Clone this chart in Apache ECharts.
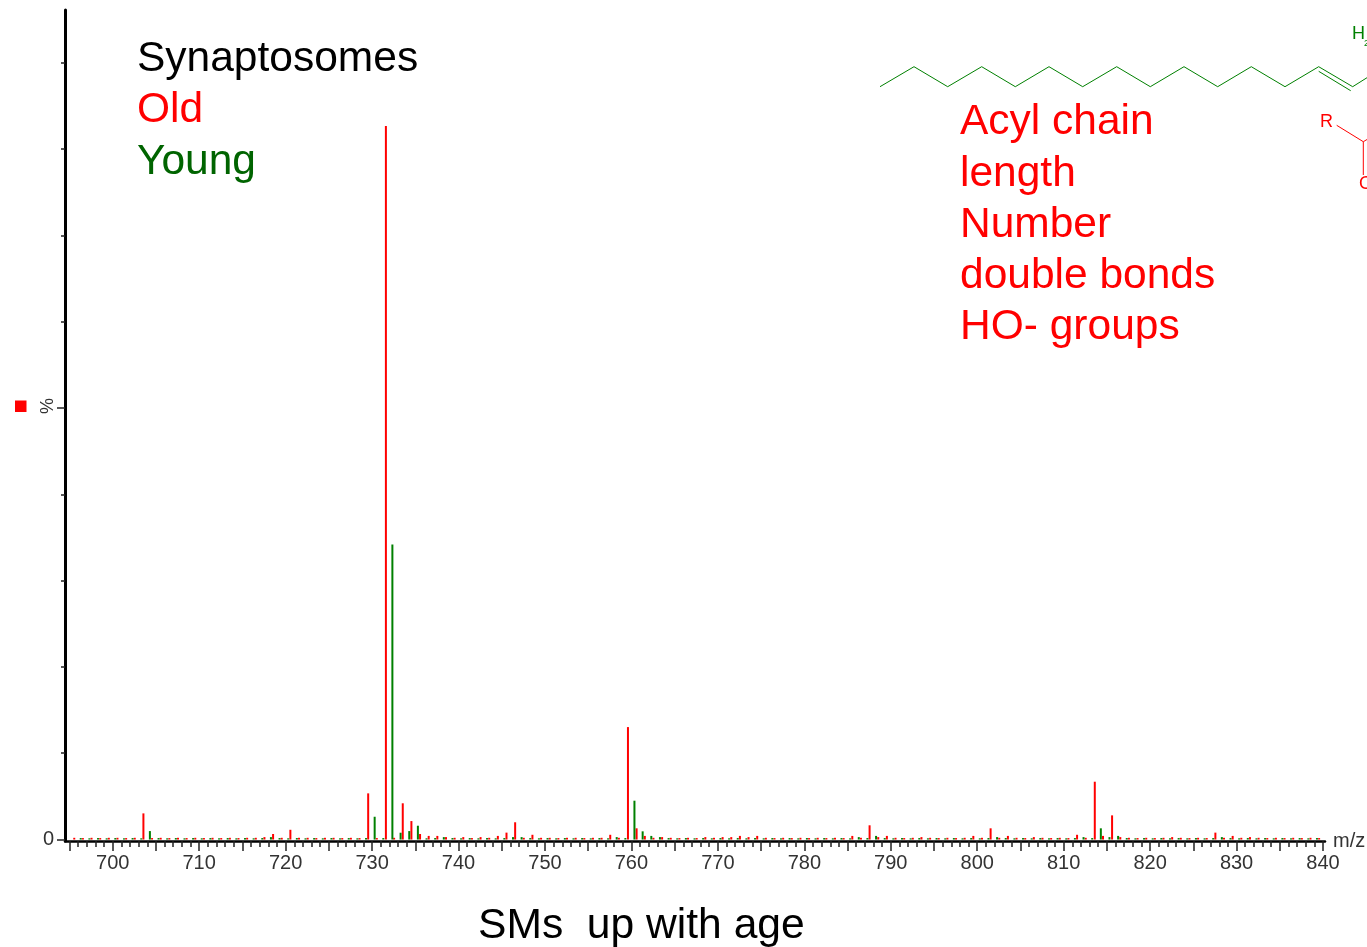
<!DOCTYPE html>
<html><head><meta charset="utf-8">
<style>html,body{margin:0;padding:0;background:#fff}#c{width:1367px;height:947px}</style>
<script src="https://cdn.jsdelivr.net/npm/echarts@6/dist/echarts.min.js"></script>
</head><body><div id="c"></div>
<script>
const oldMz = [
695.55,696.55,697.55,698.55,699.55,
700.55,701.55,702.55,703.55,704.55,705.55,706.55,707.55,708.55,709.55,
710.55,711.55,712.55,713.55,714.55,715.55,716.55,717.55,718.55,719.55,
720.55,721.55,722.55,723.55,724.55,725.55,726.55,727.55,728.55,729.55,
730.55,731.6,732.55,733.55,734.55,735.55,736.55,737.55,738.55,739.55,
740.55,741.55,742.55,743.55,744.55,745.55,746.55,747.55,748.55,749.55,
750.55,751.55,752.55,753.55,754.55,755.55,756.55,757.55,758.55,759.6,
760.6,761.55,762.55,763.55,764.55,765.55,766.55,767.55,768.55,769.55,
770.55,771.55,772.55,773.55,774.55,775.55,776.55,777.55,778.55,779.55,
780.55,781.55,782.55,783.55,784.55,785.55,786.55,787.55,788.55,789.55,
790.55,791.55,792.55,793.55,794.55,795.55,796.55,797.55,798.55,799.55,
800.55,801.55,802.55,803.55,804.55,805.55,806.55,807.55,808.55,809.55,
810.55,811.55,812.55,813.6,814.55,815.6,816.55,817.55,818.55,819.55,
820.55,821.55,822.55,823.55,824.55,825.55,826.55,827.55,828.55,829.55,
830.55,831.55,832.55,833.55,834.55,835.55,836.55,837.55,838.55,839.55];
const oldPct = [
.2,.17,.2,.17,.2,
.2,.17,.2,3.03,.17,.2,.17,.2,.17,.2,
.17,.2,.17,.2,.17,.2,.2,.28,.64,.2,
1.13,.2,.2,.17,.2,.2,.17,.2,.17,5.35,
.17,82.68,.2,4.2,2.14,.64,.42,.42,.28,.2,
.28,.17,.28,.2,.42,.8,2.0,.2,.55,.2,
.2,.17,.2,.2,.17,.2,.2,.55,.2,13.03,
1.3,.42,.2,.28,.2,.17,.2,.17,.28,.2,
.28,.28,.42,.28,.42,.2,.17,.2,.17,.2,
.17,.2,.17,.2,.17,.42,.2,1.65,.28,.42,
.2,.17,.2,.28,.2,.17,.2,.17,.2,.42,
.2,1.3,.2,.42,.2,.17,.28,.2,.17,.2,
.17,.55,.2,6.7,.42,2.8,.28,.2,.17,.2,
.17,.2,.28,.2,.17,.2,.17,.8,.2,.42,
.2,.28,.2,.17,.2,.17,.2,.17,.2,.17];
const youngMz = [
696.3,697.3,698.3,699.3,
700.3,701.3,702.3,703.3,704.3,705.3,706.3,707.3,708.3,709.3,
710.3,711.3,712.3,713.3,714.3,715.3,716.3,717.3,718.3,719.3,
720.3,721.3,722.3,723.3,724.3,725.3,726.3,727.3,728.3,729.3,
730.3,731.3,732.35,733.3,734.3,735.3,736.3,737.3,738.3,739.3,
740.3,741.3,742.3,743.3,744.3,745.3,746.3,747.3,748.3,749.3,
750.3,751.3,752.3,753.3,754.3,755.3,756.3,757.3,758.3,759.3,
760.35,761.3,762.3,763.3,764.3,765.3,766.3,767.3,768.3,769.3,
770.3,771.3,772.3,773.3,774.3,775.3,776.3,777.3,778.3,779.3,
780.3,781.3,782.3,783.3,784.3,785.3,786.3,787.3,788.3,789.3,
790.3,791.3,792.3,793.3,794.3,795.3,796.3,797.3,798.3,799.3,
800.3,801.3,802.3,803.3,804.3,805.3,806.3,807.3,808.3,809.3,
810.3,811.3,812.3,813.3,814.3,815.3,816.3,817.3,818.3,819.3,
820.3,821.3,822.3,823.3,824.3,825.3,826.3,827.3,828.3,829.3,
830.3,831.3,832.3,833.3,834.3,835.3,836.3,837.3,838.3,839.3];
const youngPct = [
.17,.14,.17,.14,
.17,.14,.17,.14,.98,.17,.14,.17,.14,.17,
.14,.17,.14,.17,.14,.17,.14,.17,.28,.17,
.14,.17,.14,.17,.14,.17,.14,.17,.14,.17,
2.64,.17,34.2,.79,.98,1.6,.14,.17,.28,.17,
.14,.17,.14,.17,.14,.17,.28,.28,.17,.14,
.17,.14,.17,.14,.17,.14,.17,.14,.28,.17,
4.5,.95,.42,.28,.17,.14,.17,.14,.17,.14,
.17,.14,.17,.14,.17,.14,.17,.14,.17,.14,
.17,.14,.17,.14,.17,.14,.28,.17,.42,.17,
.14,.17,.14,.17,.14,.17,.14,.17,.14,.17,
.14,.17,.28,.17,.14,.17,.14,.17,.14,.17,
.14,.17,.28,.17,1.3,.28,.42,.17,.14,.17,
.14,.17,.14,.17,.14,.17,.14,.17,.28,.17,
.14,.17,.14,.17,.14,.17,.14,.17,.14,.17];
const xLabels = [700,710,720,730,740,750,760,770,780,790,800,810,820,830,840];
const xMajorTicks = [695,700,705,710,715,720,725,730,735,740,745,750,755,760,765,770,775,780,785,790,795,800,805,810,815,820,825,830,835,840];
const xMinorTicks = [];
for (let m = 695; m <= 840; m++) xMinorTicks.push(m);
const yShortTicks = [10,20,30,40,60,70,80,90];
const yLongTicks = [0,50];
const yLabels = [0];
const titleLines = ['Synaptosomes','Old','Young'];
const noteLines = ['Acyl chain','length','Number','double bonds','HO- groups'];
const caption = 'SMs  up with age';

const FONT = '"Liberation Sans", Arial, sans-serif';
const X_MIN = 694.48, X_MAX = 840.23, Y_MIN = -0.17, Y_MAX = 96.12;
const RED = '#ff0000', GREEN = '#008000', BLACK = '#000000', GREY = '#333333';
const pairs = (xs, ys) => xs.map((x, i) => [x, ys[i]]);
const txt = (text, x, y, size, fill, extra) => Object.assign({
  type: 'text', silent: true,
  style: { text, x, y, fill, font: size + 'px ' + FONT, textAlign: 'left', textVerticalAlign: 'middle' }
}, extra || {});
const line = (pts, stroke) => ({
  type: 'polyline', silent: true,
  shape: { points: pts },
  style: { stroke, lineWidth: 1, fill: null }
});

const titleColors = [BLACK, RED, '#006400'];
const graphics = [];
titleLines.forEach((t, i) => graphics.push(txt(t, 137, [59, 110, 162][i], 42.5, titleColors[i])));
noteLines.forEach((t, i) => graphics.push(txt(t, 960, [122, 174, 225, 276, 327][i], 42.5, RED)));
graphics.push(txt(caption, 478, 926, 42.6, BLACK));
graphics.push(line([[880,86.7],[914,66.7],[947.7,86.7],[981.7,66.7],[1015.3,86.7],[1049,66.7],[1082.7,86.7],[1116.7,66.7],[1150.3,86.7],[1184,66.7],[1217.7,86.7],[1251.3,66.7],[1285,86.7],[1318.7,66.7],[1352.7,86.7],[1367,77.7]], GREEN));
graphics.push(line([[1318.7,71.3],[1350.7,90.7]], GREEN));
graphics.push(txt('H', 1352, 34, 18, GREEN));
graphics.push(txt('2', 1364, 44, 9, GREEN));
graphics.push(txt('R', 1320, 122, 18, RED));
graphics.push(line([[1336.7,125.3],[1363.3,141.7],[1367,139.5]], RED));
graphics.push(line([[1363.3,141.7],[1363.3,175]], RED));
graphics.push(txt('O', 1359, 184, 18, RED));
graphics.push({ type: 'rect', silent: true, shape: { x: 15, y: 400.5, width: 11.5, height: 11.5 }, style: { fill: RED } });
graphics.push(txt('%', 48, 406, 18, GREY, { rotation: Math.PI / 2, originX: 48, originY: 406,
  style: { text: '%', x: 48, y: 406, fill: GREY, font: '18px ' + FONT, textAlign: 'center', textVerticalAlign: 'middle' } }));

const chart = echarts.init(document.getElementById('c'), null, { renderer: 'canvas' });
chart.setOption({
  animation: false,
  backgroundColor: '#ffffff',
  grid: { left: 65, right: 42, top: 10, bottom: 106, containLabel: false, outerBoundsMode: 'none' },
  xAxis: [
    { type: 'value', min: X_MIN, max: X_MAX, position: 'bottom', splitLine: { show: false },
      axisLine: { show: true, onZero: false, lineStyle: { color: BLACK, width: 2.5 } },
      axisTick: { show: true, customValues: xMajorTicks, length: 10, lineStyle: { color: '#222', width: 1.5 } },
      axisLabel: { show: true, customValues: xLabels, margin: 12, fontFamily: FONT, fontSize: 20, color: GREY, formatter: v => String(v) },
      name: 'm/z', nameLocation: 'end', nameGap: 8, nameTextStyle: { fontFamily: FONT, fontSize: 20, color: GREY } },
    { type: 'value', min: X_MIN, max: X_MAX, position: 'bottom', splitLine: { show: false },
      axisLine: { show: false, onZero: false },
      axisTick: { show: true, customValues: xMinorTicks, length: 6, lineStyle: { color: '#222', width: 1.5 } },
      axisLabel: { show: false } }
  ],
  yAxis: [
    { type: 'value', min: Y_MIN, max: Y_MAX, position: 'left', splitLine: { show: false },
      axisLine: { show: true, onZero: false, lineStyle: { color: BLACK, width: 3 } },
      axisTick: { show: true, customValues: yShortTicks, length: 4, lineStyle: { color: '#222', width: 1.5 } },
      axisLabel: { show: false } },
    { type: 'value', min: Y_MIN, max: Y_MAX, position: 'left', splitLine: { show: false },
      axisLine: { show: false, onZero: false },
      axisTick: { show: true, customValues: yLongTicks, length: 8, lineStyle: { color: '#222', width: 1.5 } },
      axisLabel: { show: true, customValues: yLabels, margin: 11, fontFamily: FONT, fontSize: 20, color: GREY, formatter: v => String(v) } }
  ],
  series: [
    { name: 'Old', type: 'bar', xAxisIndex: 0, yAxisIndex: 0, barWidth: 2, barGap: '-100%', itemStyle: { color: RED }, data: pairs(oldMz, oldPct) },
    { name: 'Young', type: 'bar', xAxisIndex: 0, yAxisIndex: 0, barWidth: 2, barGap: '-100%', itemStyle: { color: GREEN }, data: pairs(youngMz, youngPct) }
  ],
  graphic: { elements: graphics }
});
</script></body></html>
